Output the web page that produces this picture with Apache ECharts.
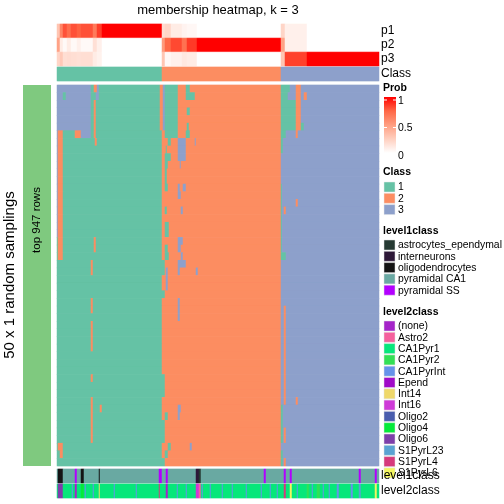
<!DOCTYPE html>
<html><head><meta charset="utf-8">
<script src="https://cdn.jsdelivr.net/npm/echarts@6/dist/echarts.min.js"></script>
<style>html,body{margin:0;padding:0;background:#fff}#c{width:504px;height:504px}</style>
</head><body><div id="c"></div>
<script>
// ---------------- data ----------------
const NCOL = 322;            // samples (columns)
const NROW = 50;             // random samplings (rows)
const classNames = ['1', '2', '3'];
const classColors = ['#66C2A5', '#FC8D62', '#8DA0CB'];
// consensus class per column range [start, end)
const classGroups = [[0, 105, 1], [105, 224, 2], [224, 322, 3]];
// per-sampling deviations: [rowFrom, rowTo, colFrom, colTo(excl), class]
const deviations = [
  [0,5,0,34,3],[1,1,6,9,1],[6,6,18,24,2],[6,6,24,34,3],[6,19,0,1,3],[6,22,1,6,2],
  [0,0,37,40,2],[0,0,40,42,3],[1,1,39,42,3],[2,6,37,39,2],[7,7,38,40,2],[20,21,37,39,2],
  [23,24,34,36,2],[28,29,34,36,2],[31,34,34,36,2],[38,38,34,36,2],[41,46,34,36,2],
  [42,42,43,45,2],[47,47,1,6,2],[48,48,3,6,2],[0,5,103,105,2],
  [0,5,106,108,3],[0,6,108,121,1],[0,0,129,133,1],[1,1,129,138,1],[3,3,130,133,1],
  [5,5,130,132,1],[6,6,129,133,1],
  [7,7,111,114,1],[7,7,121,129,3],[7,7,138,139,3],
  [8,8,109,110,1],[8,8,121,129,3],
  [9,9,108,114,1],[9,9,121,129,3],
  [10,10,108,111,1],[10,10,123,124,3],
  [11,12,108,110,1],
  [13,13,108,111,1],[13,13,121,123,3],[13,13,126,129,3],
  [14,14,121,124,3],
  [16,16,108,110,1],[16,16,124,126,3],
  [18,19,108,112,1],
  [20,20,121,126,3],
  [21,21,108,111,1],[21,21,121,124,3],
  [22,22,108,112,1],[22,22,124,126,3],
  [23,24,105,108,1],[23,23,121,129,3],[24,24,121,123,3],[24,24,139,141,3],
  [24,26,109,111,3],[27,27,105,108,1],[28,30,121,123,3],[38,40,105,108,1],
  [42,42,121,124,3],[43,43,108,111,1],[43,43,121,123,3],[44,46,105,108,1],
  [47,47,111,114,1],[47,47,133,135,3],[48,48,108,111,1],[49,49,105,108,1],
  [0,0,224,233,1],[1,1,224,231,1],[2,5,224,239,1],[0,5,239,244,2],[1,1,247,250,2],
  [5,5,244,247,1],[6,6,224,229,1],[6,6,239,241,2],[7,8,224,226,1],[13,22,224,225,1],
  [15,15,239,241,2],[16,16,227,229,2],[22,22,224,229,1],[29,41,227,229,2],
  [41,41,239,241,2],[42,46,224,226,1],[45,46,227,229,2],[48,49,224,226,1],[49,49,227,229,2]
];
// membership probabilities per column range: [start, end, p1, p2, p3]
const probSegs = [
  [0,3,0.30,0.48,0.22],[3,6,0.62,0.10,0.28],[6,10,0.80,0.03,0.17],[10,14,0.72,0.10,0.18],
  [14,20,0.80,0.03,0.17],[20,24,0.76,0.08,0.16],[24,36,0.80,0.03,0.17],[36,40,0.66,0.16,0.10],
  [40,45,0.85,0.08,0.07],[45,105,1,0,0],
  [105,108,0.18,0.52,0.30],[108,114,0.22,0.74,0.04],[114,125,0.10,0.82,0.08],
  [125,130,0.06,0.70,0.12],[130,140,0.04,0.86,0.10],[140,224,0,1,0],
  [224,228,0.22,0.48,0.30],[228,250,0.08,0.08,0.84],[250,322,0,0,1]
];
const probNames = ['p1', 'p2', 'p3'];
const probTicks = ['0', '0.5', '1'];

const level1Names = ['astrocytes_ependymal', 'interneurons', 'oligodendrocytes', 'pyramidal CA1', 'pyramidal SS'];
const level1Colors = ['#263A33', '#2E1838', '#141414', '#6AA9A3', '#B300FF'];
const level1Base = 'pyramidal CA1';
const level1Other = [[1,6,'oligodendrocytes'],[18,20,'pyramidal SS'],[24,27,'oligodendrocytes'],
  [42,43,'oligodendrocytes'],[102,105,'pyramidal SS'],[109,111,'pyramidal SS'],
  [139,142,'interneurons'],[142,144,'astrocytes_ependymal'],[207,209,'pyramidal SS'],
  [227,229,'pyramidal SS'],[233,235,'pyramidal SS'],[302,304,'pyramidal SS'],[318,320,'pyramidal SS']];

const level2Names = ['(none)', 'Astro2', 'CA1Pyr1', 'CA1Pyr2', 'CA1PyrInt', 'Epend', 'Int14', 'Int16',
  'Oligo2', 'Oligo4', 'Oligo6', 'S1PyrL23', 'S1PyrL4', 'S1PyrL6'];
const level2Colors = ['#A524C9', '#F5609D', '#07E77B', '#33E055', '#6592EA', '#A00AC8', '#EFD86A', '#CF3AD8',
  '#4A5DAE', '#06EA3A', '#7E3FAA', '#5AA3D2', '#D63A7C', '#F3F560'];
const level2Base = 'CA1Pyr1';
const level2Other = [[1,6,'Oligo6'],[15,16,'CA1PyrInt'],[18,20,'(none)'],[24,27,'Oligo4'],
  [28,29,'CA1PyrInt'],[36,37,'CA1PyrInt'],[42,43,'Int14'],[57,58,'CA1PyrInt'],[79,80,'CA1PyrInt'],
  [102,103,'S1PyrL4'],[109,111,'(none)'],[120,121,'CA1PyrInt'],[129,130,'CA1PyrInt'],
  [139,142,'Int16'],[142,144,'Astro2'],[145,146,'CA1PyrInt'],[153,154,'CA1PyrInt'],
  [165,166,'CA1PyrInt'],[175,176,'CA1PyrInt'],[189,190,'CA1PyrInt'],[204,205,'CA1PyrInt'],
  [213,214,'CA1PyrInt'],[220,221,'CA1PyrInt'],[227,229,'S1PyrL4'],[233,235,'S1PyrL6'],
  [240,241,'CA1PyrInt'],[250,252,'CA1Pyr2'],[255,256,'CA1PyrInt'],[260,263,'CA1Pyr2'],
  [266,267,'CA1PyrInt'],[272,273,'CA1PyrInt'],[280,282,'CA1PyrInt'],[294,296,'CA1PyrInt'],
  [302,304,'S1PyrL23'],[318,320,'S1PyrL6']];

// ---------------- build tables ----------------
const cols = Array.from({length: NCOL}, (_, i) => i);
const rows = Array.from({length: NROW}, (_, i) => i);
const colClass = new Array(NCOL);
classGroups.forEach(([a, b, k]) => { for (let c = a; c < b; c++) colClass[c] = k; });
const M = rows.map(() => colClass.slice());
deviations.forEach(([r0, r1, c0, c1, k]) => {
  for (let r = r0; r <= r1; r++) for (let c = c0; c < c1; c++) M[r][c] = k;
});
const mainData = [];
for (let r = 0; r < NROW; r++) for (let c = 0; c < NCOL; c++) mainData.push([c, r, M[r][c]]);
const classData = cols.map(c => [c, 0, colClass[c]]);
const probData = [];
probSegs.forEach(([a, b, p1, p2, p3]) => {
  for (let c = a; c < b; c++) { probData.push([c, 0, p1]); probData.push([c, 1, p2]); probData.push([c, 2, p3]); }
});
function levelRow(names, base, other) {
  const v = cols.map(() => names.indexOf(base));
  other.forEach(([a, b, n]) => { for (let c = a; c < b; c++) v[c] = names.indexOf(n); });
  return cols.map(c => [c, 0, v[c]]);
}
const l1Data = levelRow(level1Names, level1Base, level1Other);
const l2Data = levelRow(level2Names, level2Base, level2Other);

// ---------------- chart ----------------
const FONT = '"Liberation Sans", Arial, sans-serif';
const probRamp = ['#FFFFFF', '#FFCFBF', '#FF9E81', '#FF6746', '#FF0000'];
const gridBoxes = [[24, 42], [67, 14], [85, 381], [469, 14], [484, 14]];
const yCats = [probNames, ['Class'], rows, ['level1class'], ['level2class']];
const datas = [probData, classData, mainData, l1Data, l2Data];

const option = {
  animation: false,
  backgroundColor: '#fff',
  grid: gridBoxes.map(([t, h]) => ({left: 57, width: 322, top: t, height: h, show: false})),
  xAxis: gridBoxes.map((g, i) => ({type: 'category', gridIndex: i, data: cols, show: false})),
  yAxis: gridBoxes.map((g, i) => ({type: 'category', gridIndex: i, data: yCats[i], inverse: true, show: false})),
  visualMap: [
    {type: 'continuous', show: false, min: 0, max: 1, seriesIndex: 0, dimension: 2, inRange: {color: probRamp}},
    {type: 'piecewise', show: false, seriesIndex: [1, 2], dimension: 2,
      pieces: classColors.map((col, i) => ({value: i + 1, color: col}))},
    {type: 'piecewise', show: false, seriesIndex: 3, dimension: 2,
      pieces: level1Colors.map((col, i) => ({value: i, color: col}))},
    {type: 'piecewise', show: false, seriesIndex: 4, dimension: 2,
      pieces: level2Colors.map((col, i) => ({value: i, color: col}))}
  ],
  series: datas.map((d, i) => ({
    type: 'heatmap', xAxisIndex: i, yAxisIndex: i, data: d,
    progressive: 0, silent: true, emphasis: {disabled: true}
  })),
  graphic: []
};

const G = option.graphic;
function txt(x, y, s, o) {
  G.push(Object.assign({type: 'text', x, y, silent: true,
    style: Object.assign({text: s, fill: '#000', font: '12px ' + FONT, textAlign: 'left', textVerticalAlign: 'middle'}, (o && o.style) || {})},
    o && o.rotation ? {rotation: o.rotation} : {}));
}
// title & side labels
txt(218, 10, 'membership heatmap, k = 3', {style: {font: '13px ' + FONT, textAlign: 'center'}});
probNames.forEach((n, i) => txt(381, 31 + i * 14, n));
txt(381, 74, 'Class');
// left annotation
G.push({type: 'rect', silent: true, shape: {x: 23, y: 85, width: 28, height: 381}, style: {fill: '#7FC97F'}});
txt(37, 220, 'top 947 rows', {style: {font: '11.5px ' + FONT, textAlign: 'center'}, rotation: Math.PI / 2});
txt(10, 275, '50 x 1 random samplings', {style: {font: '15px ' + FONT, textAlign: 'center'}, rotation: Math.PI / 2});

// legends
const LX = 384;
const LF = '10.4px ' + FONT;
const bold = {style: {font: 'bold 10.5px ' + FONT}};
txt(LX - 1, 88, 'Prob', bold);
G.push({type: 'rect', silent: true, shape: {x: LX, y: 97, width: 12, height: 56},
  style: {fill: new echarts.graphic.LinearGradient(0, 1, 0, 0,
    probRamp.map((c, i) => ({offset: i / (probRamp.length - 1), color: c})))}});
[[100, '1'], [127.5, '0.5'], [155, '0']].forEach(([y, s], i) => {
  if (i < 2) G.push({type: 'line', silent: true, shape: {x1: LX, y1: y, x2: LX + 3, y2: y}, style: {stroke: '#fff', lineWidth: 1}});
  if (i < 2) G.push({type: 'line', silent: true, shape: {x1: LX + 9, y1: y, x2: LX + 12, y2: y}, style: {stroke: '#fff', lineWidth: 1}});
  txt(LX + 14, y + 1, s, {style: {font: LF}});
});
txt(LX - 1, 172, 'Class', bold);
classNames.forEach((n, i) => {
  const y = 182 + i * 11.3;
  G.push({type: 'rect', silent: true, shape: {x: LX, y, width: 11, height: 10}, style: {fill: classColors[i], stroke: '#e8e8e8', lineWidth: 0.5}});
  txt(LX + 14, y + 5.5, n, {style: {font: LF}});
});
txt(LX - 1, 231, 'level1class', bold);
level1Names.forEach((n, i) => {
  const y = 240 + i * 11.3;
  G.push({type: 'rect', silent: true, shape: {x: LX, y, width: 11, height: 10}, style: {fill: level1Colors[i], stroke: '#e0e0e0', lineWidth: 0.5}});
  txt(LX + 14, y + 5.5, n, {style: {font: LF}});
});
txt(LX - 1, 312, 'level2class', bold);
level2Names.forEach((n, i) => {
  const y = 321 + i * 11.3;
  G.push({type: 'rect', silent: true, shape: {x: LX, y, width: 11, height: 10}, style: {fill: level2Colors[i], stroke: '#e0e0e0', lineWidth: 0.5}});
  txt(LX + 14, y + 5.5, n, {style: {font: LF}});
});
txt(381, 476, 'level1class');
txt(381, 491, 'level2class');

const chart = echarts.init(document.getElementById('c'), null, {renderer: 'canvas'});
chart.setOption(option);
</script>
</body></html>
